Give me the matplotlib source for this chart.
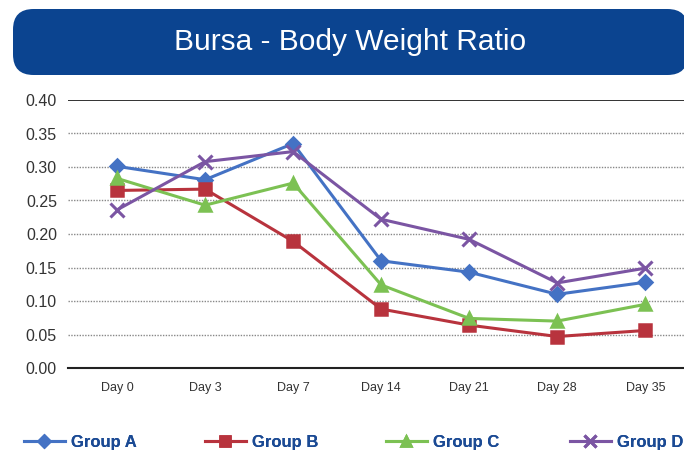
import matplotlib
matplotlib.use("Agg")
import matplotlib.pyplot as plt
from matplotlib.patches import FancyBboxPatch
from matplotlib import font_manager

names = {f.name for f in font_manager.fontManager.ttflist}
narrow = "Liberation Sans Narrow" if "Liberation Sans Narrow" in names else "Liberation Sans"

days = ["Day 0", "Day 3", "Day 7", "Day 14", "Day 21", "Day 28", "Day 35"]
group_a = [0.301, 0.281, 0.335, 0.160, 0.143, 0.110, 0.128]
group_b = [0.265, 0.267, 0.189, 0.088, 0.064, 0.047, 0.056]
group_c = [0.283, 0.243, 0.276, 0.124, 0.074, 0.070, 0.095]
group_d = [0.236, 0.308, 0.323, 0.222, 0.192, 0.127, 0.149]
series_names = ["Group A", "Group B", "Group C", "Group D"]
y_ticks = [0.00, 0.05, 0.10, 0.15, 0.20, 0.25, 0.30, 0.35, 0.40]

fig = plt.figure(figsize=(6.84, 4.61), dpi=100)
W, H = 684, 461

# Title banner
banner = FancyBboxPatch((13 / W, 1 - 75 / H), (688 - 13) / W, (75 - 9) / H,
                        boxstyle="round,pad=0,rounding_size=0.03",
                        transform=fig.transFigure, facecolor="#0B4490",
                        edgecolor="none", mutation_aspect=W / H)
fig.patches.append(banner)
fig.text(350 / W, 1 - 42 / H, "Bursa - Body Weight Ratio", color="white",
         fontsize=21.5, family=narrow, ha="center", va="center")

ax = fig.add_axes([68 / W, 1 - 368 / H, (684 - 68) / W, (368 - 100) / H])
x = list(range(len(days)))

styles = [
    (group_a, "#4472C4", "D", 7, 1.8),
    (group_b, "#B8333D", "s", 8.5, 1.8),
    (group_c, "#7CC153", "^", 9, 1.8),
    (group_d, "#7B55A3", "x", 10, 2.2),
]
for (vals, col, mk, ms, mew), name in zip(styles, series_names):
    ax.plot(x, vals, color=col, lw=2.2, marker=mk, markersize=ms,
            markeredgewidth=mew, markeredgecolor=col, markerfacecolor=col,
            label=name, zorder=3)

ax.set_ylim(0, 0.40)
ax.set_xlim(-0.557, 6.44)
ax.set_yticks(y_ticks)
ax.set_yticklabels([f"{v:.2f}" for v in y_ticks])
ax.set_xticks(x)
ax.set_xticklabels(days)
for s in ["left", "right", "top"]:
    ax.spines[s].set_visible(False)
ax.spines["bottom"].set_color("#222222")
ax.spines["bottom"].set_linewidth(1.5)
ax.axhline(0.40, color="#222222", lw=1.3, zorder=2)
for v in y_ticks[1:-1]:
    ax.axhline(v, color="#888888", lw=1.0, ls=(0, (1, 1)), zorder=1)
ax.tick_params(axis="both", length=0)
ax.tick_params(axis="y", pad=8, labelsize=11.5, labelcolor="#333333")
ax.tick_params(axis="x", pad=10, labelsize=9, labelcolor="#333333")
for lab in ax.get_yticklabels() + ax.get_xticklabels():
    lab.set_family("Liberation Sans")

leg_x = [24, 205, 386, 570]
handles, labels = ax.get_legend_handles_labels()
for hx, h, l in zip(leg_x, handles, labels):
    lg = fig.legend([h], [l], loc="center left",
                    bbox_to_anchor=(hx / W, 1 - 442 / H), frameon=False,
                    handlelength=2.45, handletextpad=0.36, borderpad=0,
                    borderaxespad=0,
                    prop={"family": narrow, "weight": "bold", "size": 12},
                    labelcolor="#1B4A94", markerscale=0.85)
    fig.add_artist(lg)

fig.savefig("out.png", dpi=100)
